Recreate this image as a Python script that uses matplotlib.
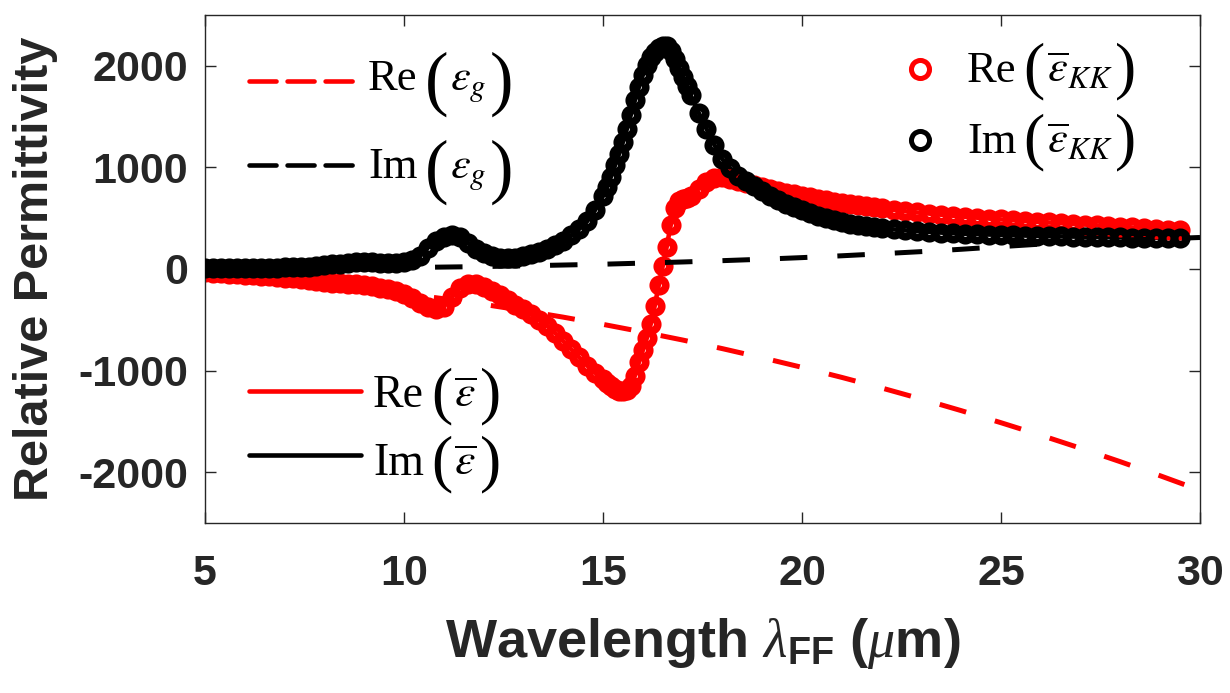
import matplotlib
matplotlib.use('Agg')
import matplotlib.pyplot as plt
from matplotlib.lines import Line2D
from matplotlib.font_manager import FontProperties

# wavelength grid of the measured / KK data (um)
wl_kk = [5.0, 5.2, 5.4, 5.6, 5.8, 6.0, 6.2, 6.4, 6.6, 6.8,
         7.0, 7.2, 7.4, 7.6, 7.8, 8.0, 8.2, 8.4, 8.6, 8.8,
         9.0, 9.2, 9.4, 9.6, 9.8, 10.0, 10.2, 10.4, 10.6, 10.8,
         11.0, 11.2, 11.4, 11.6, 11.8, 12.0, 12.2, 12.4, 12.6, 12.8,
         13.0, 13.2, 13.4, 13.6, 13.8, 14.0, 14.2, 14.4, 14.6, 14.8,
         15.0, 15.1, 15.2, 15.3, 15.4, 15.5, 15.6, 15.7, 15.8, 15.9,
         16.0, 16.1, 16.2, 16.3, 16.4, 16.5, 16.6, 16.7, 16.8, 16.9,
         17.0, 17.1, 17.2, 17.4, 17.6, 17.8, 18.0, 18.2, 18.4, 18.6,
         18.8, 19.0, 19.2, 19.4, 19.6, 19.8, 20.0, 20.2, 20.4, 20.6,
         20.8, 21.0, 21.2, 21.4, 21.6, 21.8, 22.0, 22.3, 22.6, 22.9,
         23.2, 23.5, 23.8, 24.1, 24.4, 24.7, 25.0, 25.3, 25.6, 25.9,
         26.2, 26.5, 26.8, 27.1, 27.4, 27.7, 28.0, 28.3, 28.6, 28.9,
         29.2, 29.5]

re_kk = [-30, -35, -40, -45, -50, -55, -60, -66, -72, -78,
         -85, -92, -100, -108, -116, -125, -133, -140, -147, -152,
         -158, -170, -185, -200, -220, -245, -285, -330, -375, -395,
         -370, -280, -190, -150, -150, -175, -215, -260, -305, -350,
         -395, -445, -500, -560, -630, -710, -790, -870, -950, -1020,
         -1080, -1120, -1150, -1180, -1200, -1205, -1195, -1150, -1050, -920,
         -800, -680, -540, -360, -160, 30, 220, 430, 600, 670,
         690, 700, 720, 790, 860, 900, 905, 890, 870, 850,
         830, 810, 790, 770, 752, 735, 720, 705, 690, 676,
         663, 650, 638, 627, 616, 606, 596, 582, 568, 556,
         545, 534, 524, 514, 505, 496, 488, 480, 472, 465,
         458, 451, 444, 437, 430, 423, 416, 409, 402, 395,
         388, 380]

im_kk = [5, 6, 7, 8, 9, 10, 11, 12, 13, 14,
         16, 18, 20, 23, 30, 38, 45, 50, 60, 68,
         70, 68, 63, 60, 60, 65, 85, 130, 210, 275,
         315, 330, 310, 260, 200, 155, 125, 110, 105, 110,
         125, 145, 170, 200, 235, 275, 330, 395, 470, 580,
         720, 810, 910, 1020, 1130, 1250, 1380, 1520, 1660, 1790,
         1910, 2010, 2090, 2140, 2175, 2195, 2195, 2150, 2070, 1980,
         1890, 1800, 1710, 1540, 1380, 1220, 1080, 990, 920, 870,
         820, 770, 720, 680, 640, 610, 580, 550, 525, 500,
         480, 460, 445, 432, 420, 410, 400, 390, 380, 372,
         365, 358, 352, 347, 343, 339, 335, 332, 329, 326,
         323, 321, 319, 317, 315, 313, 311, 309, 308, 307,
         306, 305]

# averaged permittivity (solid lines) coincides with the KK result
re_bar = re_kk
im_bar = im_kk

# reference permittivity eps_g (dashed)
wl_g = [5, 6, 7, 8, 9, 10, 11, 12, 13, 14, 15, 16, 17,
        18, 19, 20, 21, 22, 23, 24, 25, 26, 27, 28, 29, 30]
re_g = [-60, -87, -119, -155, -196, -242, -293, -348, -409, -474, -545, -620, -699,
        -784, -874, -968, -1067, -1171, -1280, -1394, -1513, -1636, -1764, -1897, -2035, -2178]
im_g = [2, 3, 5, 7, 10, 14, 19, 24, 31, 39, 47, 58, 69,
        82, 96, 112, 130, 150, 171, 194, 220, 245, 265, 282, 296, 310]

plt.rcParams['font.family'] = ['Liberation Sans', 'DejaVu Sans']
plt.rcParams['axes.unicode_minus'] = False
plt.rcParams['mathtext.fontset'] = 'custom'
plt.rcParams['mathtext.rm'] = 'Liberation Sans:bold'
plt.rcParams['mathtext.it'] = 'Liberation Serif:style=italic:weight=normal'
plt.rcParams['mathtext.bf'] = 'Liberation Sans:bold'

dark = '#262626'
W, H = 1230, 693
fig = plt.figure(figsize=(W / 100, H / 100), dpi=100)
ax = fig.add_axes([0.1667, 0.2453, 0.8089, 0.7331])

ax.plot(wl_kk, re_bar, '-', color='r', lw=3.3, zorder=1)
ax.plot(wl_kk, im_bar, '-', color='k', lw=3.3, zorder=1)
ax.plot(wl_kk, re_kk, 'o', ms=9, mew=5.5, mfc='none', mec='r', zorder=2)
ax.plot(wl_g, re_g, color='r', lw=3.6, dashes=(5.5, 6.0), zorder=3)
ax.plot(wl_g, im_g, color='k', lw=3.6, dashes=(5.5, 6.0), zorder=3)
ax.plot(wl_kk, im_kk, 'o', ms=9, mew=5.5, mfc='none', mec='k', zorder=4)

ax.set_xlim(5, 30)
ax.set_ylim(-2500, 2500)
ax.set_xticks([5, 10, 15, 20, 25, 30])
ax.set_yticks([-2000, -1000, 0, 1000, 2000])
ax.tick_params(direction='in', top=True, right=True, length=8, width=1,
               color=dark, labelcolor=dark, labelsize=31)
ax.tick_params(axis='x', pad=22)
ax.tick_params(axis='y', pad=12)
for lab in ax.get_xticklabels() + ax.get_yticklabels():
    lab.set_fontweight('bold')
for s in ax.spines.values():
    s.set_color(dark)
    s.set_linewidth(1)

ax.set_xlabel(r'Wavelength $\lambda_{\mathrm{FF}}$ ($\mu$m)', fontsize=39,
              fontweight='bold', color=dark, labelpad=16)
ax.set_ylabel('Relative Permittivity', fontsize=35, fontweight='bold',
              color=dark, labelpad=15)

# legend entries, placed by hand (pixel coordinates from the top left)
renderer = fig.canvas.get_renderer()


def handle(x0, x1, y, **kw):
    fig.add_artist(Line2D([x0 / W, x1 / W], [1 - y / H, 1 - y / H],
                          transform=fig.transFigure, **kw))


def label(x, y, head, body, size, psize, pdrop):
    rm = FontProperties(family='Liberation Serif', size=size, weight='normal')
    par = FontProperties(family='Liberation Serif', size=psize, weight='normal')
    mth = FontProperties(family='Liberation Serif', size=size, weight='normal',
                         math_fontfamily='stix')
    for s, fp, drop, gap in [(head, rm, 0, 0), ('(', par, pdrop, 7),
                             (body, mth, 0, 2), (')', par, pdrop, 3)]:
        x += gap
        t = fig.text(x / W, 1 - (y + drop) / H, s, fontproperties=fp,
                     ha='left', va='baseline')
        x += t.get_window_extent(renderer).width


dash_kw = dict(lw=3.3, dashes=(5.9, 2.4), dash_capstyle='round')
handle(249, 358, 81, color='r', **dash_kw)
handle(249, 358, 165, color='k', **dash_kw)
label(368, 90, 'Re', r'$\varepsilon_g$', 32, 51, 12)
label(368, 178, 'Im', r'$\varepsilon_g$', 32, 51, 12)

handle(249, 361, 391, color='r', lw=3.3, solid_capstyle='round')
handle(249, 361, 455, color='k', lw=3.3, solid_capstyle='round')
label(373, 407, 'Re', r'$\overline{\varepsilon}$', 33, 46, 4)
label(373, 475, 'Im', r'$\overline{\varepsilon}$', 33, 46, 4)

mk_kw = dict(ls='none', marker='o', ms=13, mew=3.6, mfc='none')
fig.add_artist(Line2D([920 / W], [1 - 69 / H], transform=fig.transFigure, mec='r', **mk_kw))
fig.add_artist(Line2D([920 / W], [1 - 140 / H], transform=fig.transFigure, mec='k', **mk_kw))
label(967, 82, 'Re', r'$\overline{\varepsilon}_{KK}$', 32, 46, 4)
label(967, 153, 'Im', r'$\overline{\varepsilon}_{KK}$', 32, 46, 4)

fig.savefig('out.png', dpi=100)
